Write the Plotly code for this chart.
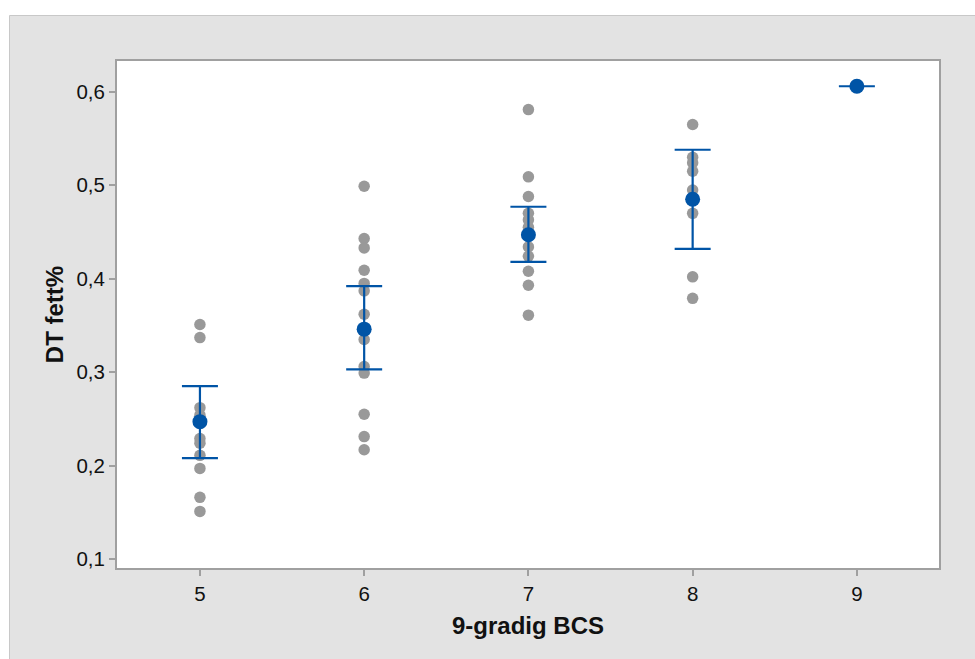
import plotly.graph_objects as go

# ---- data ----
bcs_levels = [5, 6, 7, 8, 9]
fat_5 = [0.351, 0.337, 0.262, 0.254, 0.229, 0.224, 0.211, 0.197, 0.166, 0.151]
fat_6 = [0.499, 0.443, 0.433, 0.409, 0.395, 0.387, 0.362, 0.335, 0.306, 0.299, 0.255, 0.231, 0.217]
fat_7 = [0.581, 0.509, 0.488, 0.470, 0.463, 0.455, 0.434, 0.424, 0.408, 0.393, 0.361]
fat_8 = [0.565, 0.530, 0.524, 0.515, 0.495, 0.470, 0.402, 0.379]
fat_9 = [0.606]
mean_fat = [0.247, 0.346, 0.447, 0.485, 0.606]
ci_upper = [0.285, 0.392, 0.477, 0.538, 0.606]
ci_lower = [0.208, 0.303, 0.418, 0.432, 0.606]
y_ticks = [0.1, 0.2, 0.3, 0.4, 0.5, 0.6]

groups = [fat_5, fat_6, fat_7, fat_8, fat_9]
xs, ys = [], []
for lvl, vals in zip(bcs_levels, groups):
    xs += [lvl] * len(vals)
    ys += vals

GRAY = "#999999"
BLUE = "#0054A6"
FRAME = "#A0A0A0"
FONT = "Liberation Sans, Arial, sans-serif"

fig = go.Figure()
fig.add_trace(go.Scatter(x=xs, y=ys, mode="markers",
                         marker=dict(color=GRAY, size=11.5, line=dict(width=0)),
                         hoverinfo="x+y", showlegend=False))
fig.add_trace(go.Scatter(
    x=bcs_levels, y=mean_fat, mode="markers",
    marker=dict(color=BLUE, size=15, line=dict(width=0)),
    error_y=dict(type="data", symmetric=False,
                 array=[u - m for u, m in zip(ci_upper, mean_fat)],
                 arrayminus=[m - l for m, l in zip(mean_fat, ci_lower)],
                 color=BLUE, thickness=2.2, width=18),
    showlegend=False))

L, R, T, B = 117, 36, 61, 91
W, H = 975, 659
pw, ph = W - L - R, H - T - B

def px_x(p):
    return (p - L) / pw

def px_y(p):
    return (H - B - p) / ph

fig.add_shape(type="rect", xref="paper", yref="paper", layer="below",
              x0=px_x(9.5), x1=px_x(W + 5), y0=px_y(H + 5), y1=px_y(15.5),
              fillcolor="#E3E3E3", line=dict(color="#C8C8C8", width=1))
fig.add_shape(type="rect", xref="paper", yref="paper", layer="below",
              x0=0, x1=1, y0=0, y1=1, fillcolor="white", line=dict(width=0))

fig.update_layout(
    width=W, height=H,
    margin=dict(l=L, r=R, t=T, b=B),
    paper_bgcolor="white", plot_bgcolor="white",
    separators=",.",
    font=dict(family=FONT, color="#111111"),
    xaxis=dict(range=[4.495, 9.5], tickvals=bcs_levels,
               ticks="outside", ticklen=6, tickwidth=2, tickcolor=FRAME,
               tickfont=dict(size=20.5, family=FONT),
               showline=True, linecolor=FRAME, linewidth=2, mirror=True,
               showgrid=False, zeroline=False,
               title=dict(text="<b>9-gradig BCS</b>", font=dict(size=24, family=FONT),
                          standoff=14)),
    yaxis=dict(range=[0.0904, 0.633], tickvals=y_ticks, tickformat=".1f",
               ticks="outside", ticklen=6, tickwidth=2, tickcolor=FRAME,
               tickfont=dict(size=20.5, family=FONT),
               showline=True, linecolor=FRAME, linewidth=2, mirror=True,
               showgrid=False, zeroline=False,
               title=dict(text="<b>DT fett%</b>", font=dict(size=24, family=FONT),
                          standoff=6)),
)

fig.write_html("out.html")
